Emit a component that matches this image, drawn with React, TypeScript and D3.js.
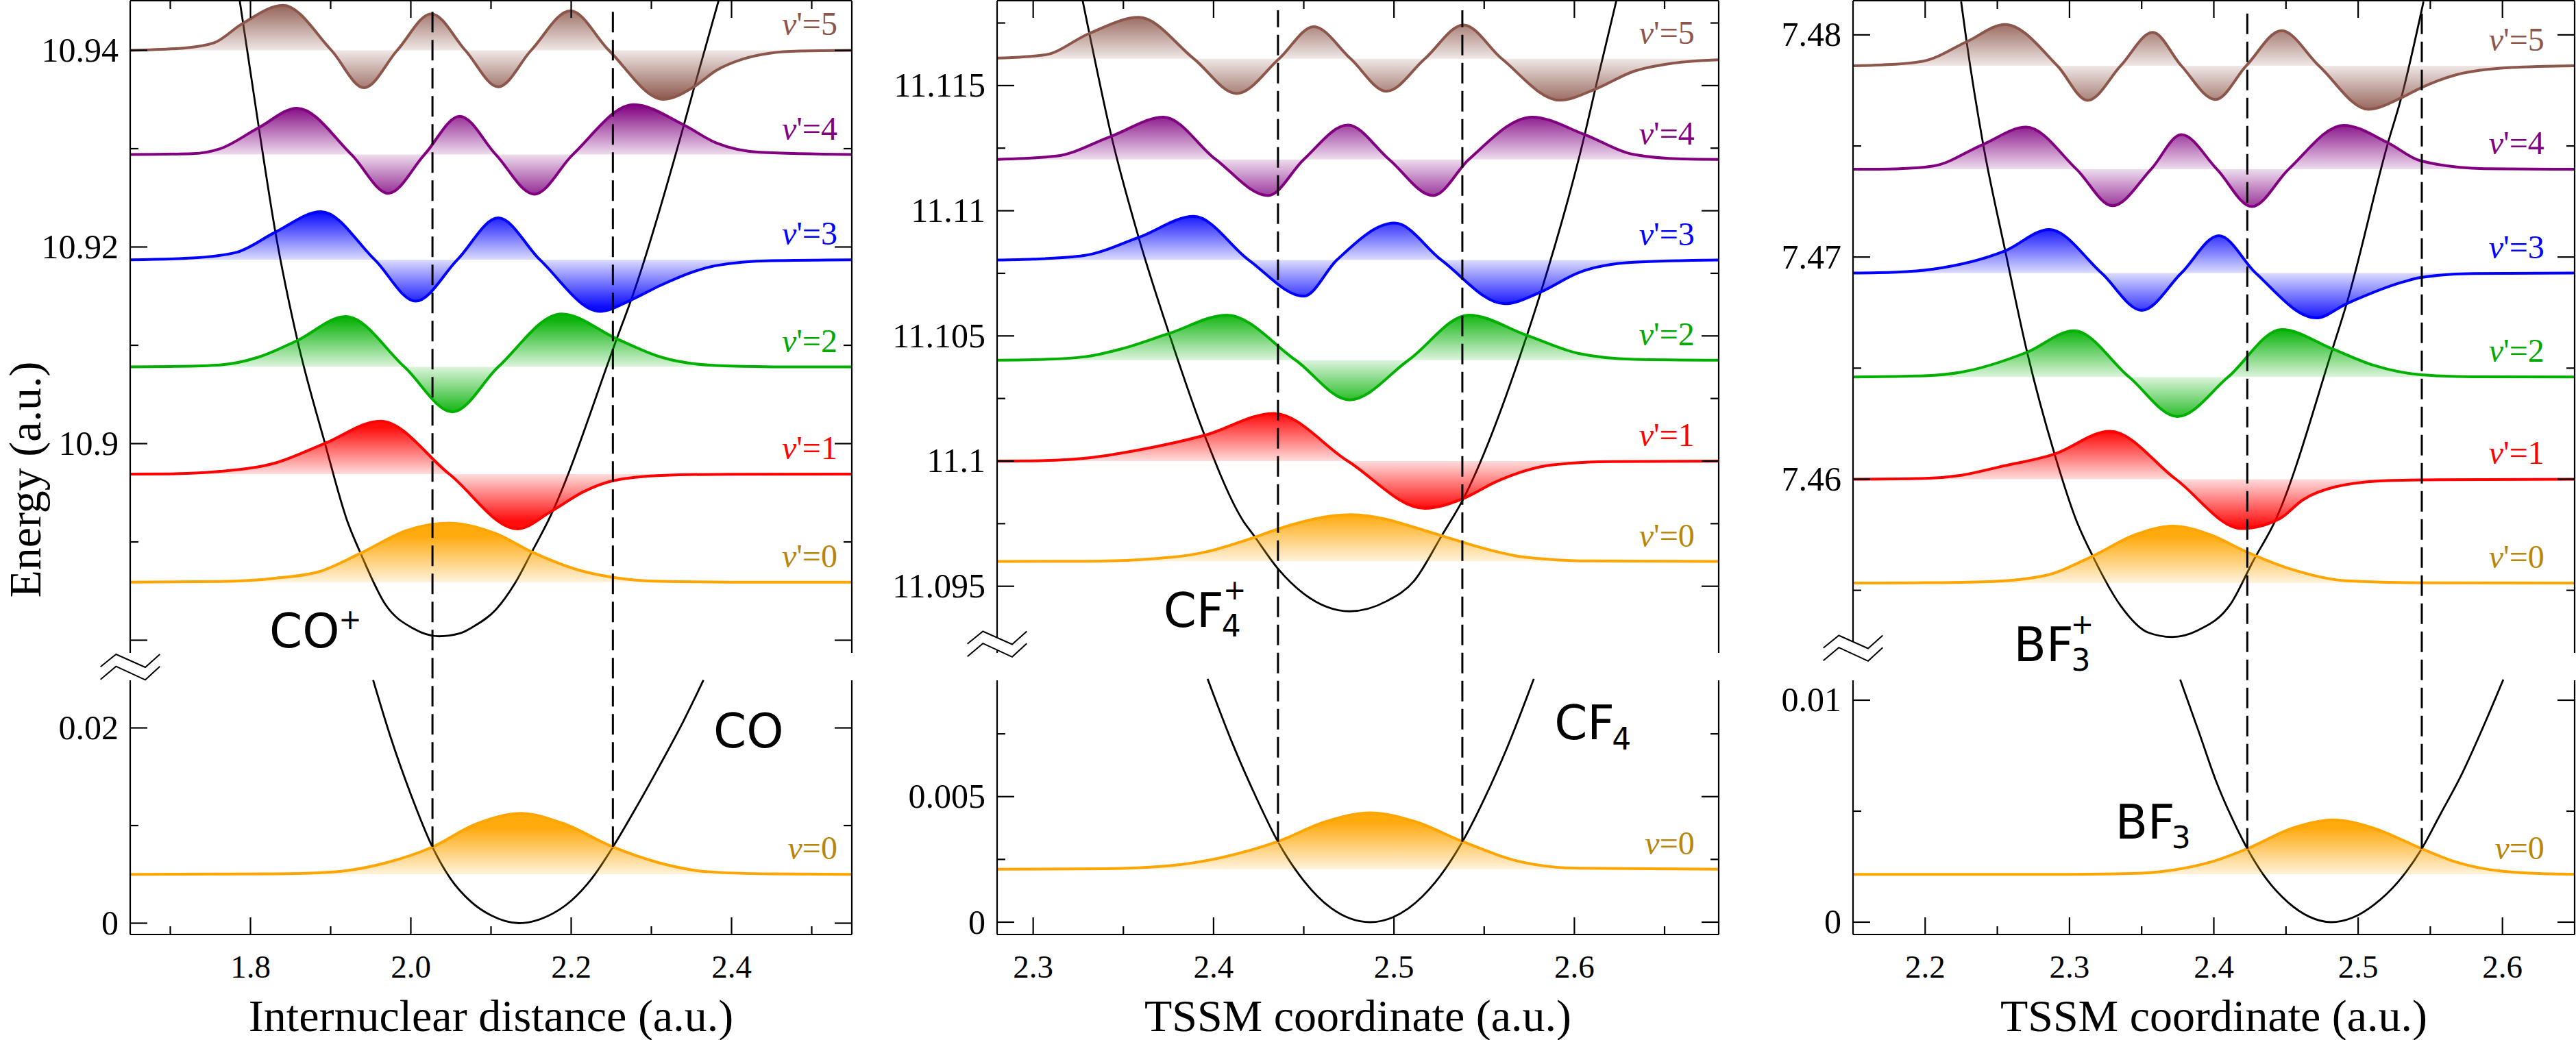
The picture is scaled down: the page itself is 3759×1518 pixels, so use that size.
import React from "react";
import * as d3 from "d3";

type Pt = [number, number];

/* ================= CO / CO+ ================= */
const coXDomain: [number, number] = [1.65, 2.55];
const coXMajor = [1.8, 2.0, 2.2, 2.4];
const coXMinor = [1.7, 1.9, 2.1, 2.3, 2.5];
const coUpperDomain: [number, number] = [10.878711, 10.945052];
const coLowerDomain: [number, number] = [-0.001158, 0.024877];
const coUpperMajor = [10.88, 10.9, 10.92, 10.94];
const coUpperLabeled = [10.9, 10.92, 10.94];
const coUpperMinor = [10.89, 10.91, 10.93];
const coLowerMajor = [0, 0.02];
const coLowerMinor = [0.01];
const coLevels = [10.8859, 10.8969, 10.9078, 10.9187, 10.9294, 10.94];
const coGroundLevel = 0.005;
const coV0: Pt[] = [[1.65, 0], [1.762, 0.015], [1.831, 0.09], [1.886, 0.24], [1.937, 0.65], [1.996, 1.17], [2.0475, 1.33], [2.106, 1.09], [2.151, 0.68], [2.209, 0.275], [2.252, 0.11], [2.312, 0.02], [2.4, 0.003], [2.55, 0]];
const coV1: Pt[] = [[1.65, 0], [1.7, 0.005], [1.762, 0.06], [1.831, 0.25], [1.893, 0.69], [1.962, 1.19], [2.048, 0], [2.133, -1.23], [2.175, -0.84], [2.216, -0.39], [2.252, -0.15], [2.312, -0.03], [2.4, -0.003], [2.55, 0]];
const coV2: Pt[] = [[1.65, 0], [1.7, 0.01], [1.762, 0.045], [1.81, 0.22], [1.858, 0.59], [1.919, 1.13], [1.992, 0], [2.052, -1.01], [2.109, 0], [2.188, 1.19], [2.257, 0.63], [2.312, 0.22], [2.381, 0.03], [2.45, 0.003], [2.55, 0]];
const coV3: Pt[] = [[1.65, 0], [1.728, 0.04], [1.783, 0.17], [1.831, 0.62], [1.888, 1.08], [1.955, 0], [2.006, -0.93], [2.058, 0], [2.109, 0.94], [2.161, 0], [2.236, -1.16], [2.274, -0.91], [2.312, -0.57], [2.381, -0.13], [2.449, -0.02], [2.55, 0]];
const coV4: Pt[] = [[1.65, 0], [1.728, 0.02], [1.762, 0.13], [1.81, 0.6], [1.858, 1.04], [1.926, 0], [1.972, -0.87], [2.017, 0], [2.061, 0.86], [2.106, 0], [2.154, -0.89], [2.202, 0], [2.278, 1.12], [2.34, 0.67], [2.381, 0.26], [2.436, 0.05], [2.55, 0]];
const coV5: Pt[] = [[1.65, 0], [1.7166, 0.05], [1.7547, 0.17], [1.789, 0.59], [1.8406, 1.01], [1.901, 0], [1.9416, -0.84], [1.983, 0], [2.0256, 0.82], [2.068, 0], [2.109, -0.82], [2.15, 0], [2.199, 0.89], [2.247, 0], [2.315, -1.1], [2.353, -0.82], [2.381, -0.45], [2.415, -0.19], [2.449, -0.06], [2.484, -0.015], [2.55, 0]];
const coGroundV0: Pt[] = [[1.65, 0], [1.83, 0.01], [1.9, 0.05], [1.9685, 0.26], [2.027, 0.62], [2.08, 1.13], [2.137, 1.38], [2.19, 1.15], [2.252, 0.62], [2.31, 0.26], [2.37, 0.06], [2.45, 0.01], [2.55, 0]];
const coIonPotential: Pt[] = [[1.7865, 10.9451], [1.8105, 10.9321], [1.8311, 10.9215], [1.8586, 10.9105], [1.893, 10.9], [1.9204, 10.8922], [1.9376, 10.8888], [1.9686, 10.8836], [2.0029, 10.8812], [2.035, 10.8804], [2.0613, 10.8807], [2.0784, 10.8814], [2.1059, 10.8831], [2.1299, 10.8858], [2.151, 10.889], [2.1716, 10.8922], [2.257, 10.9107], [2.2777, 10.9153], [2.3395, 10.9321], [2.3533, 10.9362], [2.384, 10.9451]];
const coNeutralPotential: Pt[] = [[1.953, 0.0249], [1.975, 0.019], [2.0, 0.0132], [2.027, 0.0078], [2.05, 0.0045], [2.075, 0.0022], [2.1, 0.0008], [2.135, 0], [2.17, 0.0007], [2.2, 0.0023], [2.225, 0.0045], [2.252, 0.0078], [2.28, 0.0117], [2.31, 0.0161], [2.34, 0.0207], [2.365, 0.0249]];
const coFranckCondon = [2.027, 2.252];
const coFranckCondonEnergy = 0.0078;

/* ================= CF4 / CF4+ ================= */
const cfXDomain: [number, number] = [2.28, 2.68];
const cfXMajor = [2.3, 2.4, 2.5, 2.6];
const cfXMinor = [2.35, 2.45, 2.55, 2.65];
const cfUpperDomain: [number, number] = [11.092337, 11.118391];
const cfLowerDomain: [number, number] = [-0.000491, 0.009632];
const cfUpperMajor = [11.095, 11.1, 11.105, 11.11, 11.115];
const cfUpperLabeled = [11.095, 11.1, 11.105, 11.11, 11.115];
const cfUpperMinor = [11.0975, 11.1025, 11.1075, 11.1125, 11.1175];
const cfLowerMajor = [0, 0.005];
const cfLowerMinor = [0.0025, 0.0075];
const cfLevels = [11.09599, 11.1, 11.10403, 11.10803, 11.11205, 11.11607];
const cfGroundLevel = 0.00211;
const cfV0: Pt[] = [[2.28, 0], [2.33, 0.005], [2.3586, 0.04], [2.3952, 0.21], [2.4226, 0.54], [2.4357, 0.73], [2.476, 1.05], [2.5263, 0.58], [2.5415, 0.39], [2.572, 0.1], [2.61, 0.01], [2.68, 0]];
const cfV1: Pt[] = [[2.28, 0], [2.3, 0.005], [2.3281, 0.06], [2.3586, 0.25], [2.3952, 0.58], [2.4333, 1.07], [2.4744, 0], [2.5171, -1.06], [2.5385, -0.84], [2.5568, -0.46], [2.5873, -0.09], [2.62, -0.01], [2.68, 0]];
const cfV2: Pt[] = [[2.28, 0], [2.3, 0.01], [2.3281, 0.075], [2.3494, 0.26], [2.3753, 0.6], [2.4074, 1.01], [2.4455, 0], [2.4754, -0.89], [2.508, 0], [2.5415, 1.01], [2.5736, 0.56], [2.6025, 0.15], [2.633, 0.02], [2.68, 0]];
const cfV3: Pt[] = [[2.28, 0], [2.3, 0.02], [2.3281, 0.1], [2.3586, 0.51], [2.389, 0.98], [2.4195, 0], [2.45, -0.81], [2.4683, 0], [2.5004, 0.83], [2.5263, 0], [2.5614, -0.98], [2.5812, -0.72], [2.6025, -0.28], [2.633, -0.05], [2.68, 0]];
const cfV4: Pt[] = [[2.28, 0], [2.3128, 0.075], [2.3433, 0.52], [2.3723, 0.95], [2.4012, 0], [2.4302, -0.81], [2.45, 0], [2.4744, 0.77], [2.4973, 0], [2.5217, -0.81], [2.5415, 0], [2.5766, 0.95], [2.6056, 0.56], [2.633, 0.11], [2.66, 0.01], [2.68, 0]];
const cfV5: Pt[] = [[2.28, 0.015], [2.3067, 0.09], [2.3311, 0.57], [2.3586, 0.93], [2.3891, 0], [2.4128, -0.78], [2.4363, 0], [2.4555, 0.72], [2.476, 0], [2.4958, -0.73], [2.5171, 0], [2.5385, 0.76], [2.5598, 0], [2.5919, -0.93], [2.6117, -0.68], [2.633, -0.28], [2.6544, -0.1], [2.6803, -0.02]];
const cfGroundV0: Pt[] = [[2.28, 0], [2.34, 0.01], [2.3738, 0.07], [2.4043, 0.26], [2.4357, 0.62], [2.462, 1.06], [2.4867, 1.26], [2.512, 1.06], [2.5379, 0.62], [2.572, 0.15], [2.6025, 0.02], [2.68, 0]];
const cfIonPotential: Pt[] = [[2.3274, 11.1184], [2.3311, 11.1171], [2.3433, 11.113], [2.3586, 11.1089], [2.3753, 11.1051], [2.3952, 11.101], [2.4165, 11.0976], [2.4226, 11.097], [2.4357, 11.0957], [2.45, 11.0947], [2.4754, 11.094], [2.4958, 11.0944], [2.511, 11.0952], [2.5263, 11.097], [2.5385, 11.0985], [2.5736, 11.105], [2.5812, 11.1067], [2.6056, 11.113], [2.6117, 11.1149], [2.6233, 11.1184]];
const cfNeutralPotential: Pt[] = [[2.3967, 0.00969], [2.41, 0.0072], [2.4234, 0.005], [2.4357, 0.0032], [2.45, 0.00165], [2.465, 0.00057], [2.4867, 0], [2.508, 0.00055], [2.523, 0.0016], [2.5379, 0.0032], [2.55, 0.0049], [2.563, 0.007], [2.5775, 0.00969]];
const cfFranckCondon = [2.4357, 2.5379];
const cfFranckCondonEnergy = 0.0032;

/* ================= BF3 / BF3+ ================= */
const bfXDomain: [number, number] = [2.15, 2.65];
const bfXMajor = [2.2, 2.3, 2.4, 2.5, 2.6];
const bfXMinor = [2.25, 2.35, 2.45, 2.55];
const bfUpperDomain: [number, number] = [7.452183, 7.481539];
const bfLowerDomain: [number, number] = [-0.000556, 0.010895];
const bfUpperMajor = [7.46, 7.47, 7.48];
const bfUpperLabeled = [7.46, 7.47, 7.48];
const bfUpperMinor = [7.455, 7.465, 7.475];
const bfLowerMajor = [0, 0.01];
const bfLowerMinor = [0.005];
const bfLevels = [7.45533, 7.46, 7.4646, 7.46928, 7.47395, 7.47861];
const bfGroundLevel = 0.00215;
const bfV0: Pt[] = [[2.15, 0], [2.2, 0.005], [2.244, 0.03], [2.2821, 0.16], [2.3164, 0.61], [2.345, 1.08], [2.3717, 1.28], [2.398, 1.08], [2.4213, 0.72], [2.4537, 0.31], [2.4919, 0.05], [2.55, 0.003], [2.65, 0]];
const bfV1: Pt[] = [[2.15, 0], [2.2, 0.02], [2.2249, 0.09], [2.2516, 0.28], [2.2898, 0.57], [2.3279, 1.08], [2.3737, 0], [2.4194, -1.11], [2.4461, -0.88], [2.4614, -0.47], [2.4843, -0.17], [2.52, -0.03], [2.5434, -0.015], [2.65, 0]];
const bfV2: Pt[] = [[2.15, 0], [2.2, 0.03], [2.2249, 0.11], [2.2707, 0.56], [2.3031, 1.04], [2.3413, 0], [2.3748, -0.89], [2.4099, 0], [2.447, 1.07], [2.4824, 0.63], [2.5111, 0.26], [2.5434, 0.05], [2.58, 0.005], [2.65, 0]];
const bfV3: Pt[] = [[2.15, 0], [2.18, 0.02], [2.2058, 0.09], [2.2554, 0.5], [2.2859, 0.98], [2.3222, 0], [2.3501, -0.84], [2.3775, 0], [2.4035, 0.84], [2.429, 0], [2.471, -1.01], [2.492, -0.69], [2.5301, -0.21], [2.5434, -0.1], [2.58, -0.01], [2.65, 0]];
const bfV4: Pt[] = [[2.15, 0], [2.18, 0.01], [2.2058, 0.075], [2.2401, 0.56], [2.2699, 0.95], [2.3049, 0], [2.3298, -0.82], [2.3565, 0], [2.3775, 0.78], [2.4022, 0], [2.4263, -0.84], [2.4518, 0], [2.49, 0.99], [2.5205, 0.6], [2.5434, 0.19], [2.5872, 0.015], [2.65, 0]];
const bfV5: Pt[] = [[2.15, 0], [2.17, 0.02], [2.1982, 0.1], [2.2287, 0.54], [2.2554, 0.93], [2.2916, 0], [2.3126, -0.78], [2.3355, 0], [2.3576, 0.75], [2.3775, 0], [2.4011, -0.76], [2.4225, 0], [2.4469, 0.79], [2.4728, 0], [2.5071, -0.98], [2.53, -0.72], [2.5434, -0.5], [2.5682, -0.2], [2.6063, -0.04], [2.65, 0]];
const bfGroundV0: Pt[] = [[2.15, 0], [2.3, 0.003], [2.35, 0.03], [2.3775, 0.13], [2.4, 0.3], [2.4232, 0.58], [2.455, 1.05], [2.4825, 1.23], [2.51, 1.05], [2.5441, 0.58], [2.5658, 0.3], [2.5872, 0.13], [2.6254, 0.02], [2.65, 0.005]];
const bfIonPotential: Pt[] = [[2.2249, 7.4815], [2.2287, 7.4797], [2.2401, 7.4751], [2.2554, 7.4703], [2.2707, 7.4657], [2.2898, 7.4611], [2.305, 7.4581], [2.3164, 7.4565], [2.3355, 7.4543], [2.3545, 7.4531], [2.371, 7.4529], [2.389, 7.4532], [2.4118, 7.4544], [2.4271, 7.4563], [2.4423, 7.4581], [2.4824, 7.4659], [2.492, 7.4679], [2.5205, 7.4751], [2.53, 7.4772], [2.5453, 7.4815]];
const bfNeutralPotential: Pt[] = [[2.3767, 0.01093], [2.39, 0.0085], [2.4013, 0.0064], [2.4125, 0.0047], [2.4232, 0.00331], [2.437, 0.0019], [2.4513, 0.0009], [2.466, 0.00025], [2.4813, 0], [2.496, 0.0002], [2.5113, 0.0008], [2.5275, 0.0018], [2.5441, 0.00331], [2.5573, 0.0049], [2.5713, 0.0066], [2.586, 0.0087], [2.6006, 0.01093]];
const bfFranckCondon = [2.4232, 2.5441];
const bfFranckCondonEnergy = 0.00331;

/* ================= styling / layout ================= */
const WAVE_COLORS = ["#ffa500", "#ff0000", "#00b000", "#0000ff", "#800080", "#8c564b"];
const LABEL_COLORS = ["#b8860b", "#ff0000", "#00a800", "#0000ff", "#800080", "#8c564b"];
const SERIF = "'Liberation Serif', 'Times New Roman', serif";
const SANS = "'DejaVu Sans', sans-serif";
const W = 3759;
const H = 1518;
const PANEL_W = 1053;
const UPPER_TOP = 1;
const UPPER_BOTTOM = 953;
const LOWER_TOP = 993;
const LOWER_BOTTOM = 1364;
const MAJOR_LEN = 25;
const MINOR_LEN = 12;

interface Formula {
  r: number;
  e: number;
  part: "upper" | "lower";
  main: string;
  sub?: string;
  sup?: string;
  subDx?: number;
  subDy?: number;
  supDx?: number;
  supDy?: number;
}

interface PanelSpec {
  left: number;
  xDomain: [number, number];
  xMajor: number[];
  xMinor: number[];
  upperDomain: [number, number];
  lowerDomain: [number, number];
  upperMajor: number[];
  upperLabeled: number[];
  upperMinor: number[];
  lowerMajor: number[];
  lowerMinor: number[];
  levels: number[];
  ionWaves: Pt[][];
  groundLevel: number;
  groundWave: Pt[];
  ionPotential: Pt[];
  neutralPotential: Pt[];
  waveScale: number;
  fc: number[];
  fcEnergy: number;
  labelR: number;
  xTitle: string;
  breakY: number;
  ion: Formula;
  neutral: Formula;
}

const panels: PanelSpec[] = [
  {
    left: 190,
    xDomain: coXDomain, xMajor: coXMajor, xMinor: coXMinor,
    upperDomain: coUpperDomain, lowerDomain: coLowerDomain,
    upperMajor: coUpperMajor, upperLabeled: coUpperLabeled, upperMinor: coUpperMinor,
    lowerMajor: coLowerMajor, lowerMinor: coLowerMinor,
    levels: coLevels, ionWaves: [coV0, coV1, coV2, coV3, coV4, coV5],
    groundLevel: coGroundLevel, groundWave: coGroundV0,
    ionPotential: coIonPotential, neutralPotential: coNeutralPotential,
    waveScale: 0.00453,
    fc: coFranckCondon, fcEnergy: coFranckCondonEnergy,
    labelR: 2.532,
    xTitle: "Internuclear distance (a.u.)",
    breakY: 973.5,
    ion: { r: 1.8235, e: 10.87927, part: "upper", main: "CO", sup: "+", supDx: 118, supDy: -27 },
    neutral: { r: 2.3774, e: 0.018, part: "lower", main: "CO" },
  },
  {
    left: 1455,
    xDomain: cfXDomain, xMajor: cfXMajor, xMinor: cfXMinor,
    upperDomain: cfUpperDomain, lowerDomain: cfLowerDomain,
    upperMajor: cfUpperMajor, upperLabeled: cfUpperLabeled, upperMinor: cfUpperMinor,
    lowerMajor: cfLowerMajor, lowerMinor: cfLowerMinor,
    levels: cfLevels, ionWaves: [cfV0, cfV1, cfV2, cfV3, cfV4, cfV5],
    groundLevel: cfGroundLevel, groundWave: cfGroundV0,
    ionPotential: cfIonPotential, neutralPotential: cfNeutralPotential,
    waveScale: 0.00178,
    fc: cfFranckCondon, fcEnergy: cfFranckCondonEnergy,
    labelR: 2.6666,
    xTitle: "TSSM coordinate (a.u.)",
    breakY: 940,
    ion: { r: 2.3722, e: 11.09338, part: "upper", main: "CF", sub: "4", subDx: 99, subDy: 14, sup: "+", supDx: 104, supDy: -40 },
    neutral: { r: 2.5889, e: 0.00729, part: "lower", main: "CF", sub: "4", subDx: 98, subDy: 15 },
  },
  {
    left: 2704,
    xDomain: bfXDomain, xMajor: bfXMajor, xMinor: bfXMinor,
    upperDomain: bfUpperDomain, lowerDomain: bfLowerDomain,
    upperMajor: bfUpperMajor, upperLabeled: bfUpperLabeled, upperMinor: bfUpperMinor,
    lowerMajor: bfLowerMajor, lowerMinor: bfLowerMinor,
    levels: bfLevels, ionWaves: [bfV0, bfV1, bfV2, bfV3, bfV4, bfV5],
    groundLevel: bfGroundLevel, groundWave: bfGroundV0,
    ionPotential: bfIonPotential, neutralPotential: bfNeutralPotential,
    waveScale: 0.002,
    fc: bfFranckCondon, fcEnergy: bfFranckCondonEnergy,
    labelR: 2.629,
    xTitle: "TSSM coordinate (a.u.)",
    breakY: 946,
    ion: { r: 2.2614, e: 7.4518, part: "upper", main: "BF", sub: "3", subDx: 98, subDy: 14, sup: "+", supDx: 100, supDy: -40 },
    neutral: { r: 2.3317, e: 0.00377, part: "lower", main: "BF", sub: "3", subDx: 96, subDy: 14 },
  },
];

/* chemical formula drawn as one text element with positioned sub/superscripts */
function FormulaLabel({ f, x, y }: { f: Formula; x: number; y: number }) {
  return (
    <text fontFamily={SANS} fill="#000" fontSize={69}>
      <tspan x={x} y={y}>{f.main}</tspan>
      {f.sub ? (
        <tspan x={x + (f.subDx ?? 0)} y={y + (f.subDy ?? 0)} fontSize={44} textAnchor="middle">{f.sub}</tspan>
      ) : null}
      {f.sup ? (
        <tspan x={x + (f.supDx ?? 0)} y={y + (f.supDy ?? 0)} fontSize={40} textAnchor="middle">{f.sup}</tspan>
      ) : null}
    </text>
  );
}

function Panel({ p, idx }: { p: PanelSpec; idx: number }) {
  const left = p.left;
  const right = p.left + PANEL_W;
  const x = d3.scaleLinear().domain(p.xDomain).range([left, right]);
  const yU = d3.scaleLinear().domain(p.upperDomain).range([UPPER_BOTTOM, UPPER_TOP]);
  const yL = d3.scaleLinear().domain(p.lowerDomain).range([LOWER_BOTTOM, LOWER_TOP]);
  const clipU = `clip-upper-${idx}`;
  const clipL = `clip-lower-${idx}`;

  const potLine = (ys: d3.ScaleLinear<number, number>) =>
    d3.line<Pt>().x((d) => x(d[0])).y((d) => ys(d[1])).curve(d3.curveMonotoneX);

  const waves = [
    ...p.levels.map((level, k) => ({
      ys: yU, level, psi: p.ionWaves[k], color: WAVE_COLORS[k], labelColor: LABEL_COLORS[k],
      tail: `'=${k}`, clip: clipU,
    })),
    {
      ys: yL, level: p.groundLevel, psi: p.groundWave, color: WAVE_COLORS[0], labelColor: LABEL_COLORS[0],
      tail: "=0", clip: clipL,
    },
  ];

  const xMid = (left + right) / 2;

  return (
    <g>
      <defs>
        <clipPath id={clipU}>
          <rect x={left} y={UPPER_TOP} width={PANEL_W} height={UPPER_BOTTOM - UPPER_TOP} />
        </clipPath>
        <clipPath id={clipL}>
          <rect x={left} y={LOWER_TOP - 40} width={PANEL_W} height={LOWER_BOTTOM - LOWER_TOP + 40} />
        </clipPath>
        {waves.map((w, k) => {
          const base = w.ys(w.level);
          const amp = Math.abs(w.ys(w.level + 1.05 * p.waveScale) - base);
          return (
            <linearGradient key={k} id={`wf-${idx}-${k}`} gradientUnits="userSpaceOnUse" x1={0} x2={0} y1={base - amp} y2={base + amp}>
              <stop offset="0" stopColor={w.color} stopOpacity={0.95} />
              <stop offset="0.5" stopColor={w.color} stopOpacity={0.14} />
              <stop offset="1" stopColor={w.color} stopOpacity={0.95} />
            </linearGradient>
          );
        })}
      </defs>

      {/* potential energy curves */}
      <g clipPath={`url(#${clipU})`}>
        <path d={potLine(yU)(p.ionPotential) ?? ""} fill="none" stroke="#000" strokeWidth={2.8} />
      </g>
      <g clipPath={`url(#${clipL})`}>
        <path d={potLine(yL)(p.neutralPotential) ?? ""} fill="none" stroke="#000" strokeWidth={2.8} />
      </g>

      {/* vibrational wavefunctions */}
      {waves.map((w, k) => {
        const area = d3.area<Pt>().x((d) => x(d[0])).y0(w.ys(w.level)).y1((d) => w.ys(w.level + d[1] * p.waveScale)).curve(d3.curveMonotoneX);
        const line = d3.line<Pt>().x((d) => x(d[0])).y((d) => w.ys(w.level + d[1] * p.waveScale)).curve(d3.curveMonotoneX);
        return (
          <g key={k} clipPath={`url(#${w.clip})`}>
            <path d={area(w.psi) ?? ""} fill={`url(#wf-${idx}-${k})`} stroke="none" />
            <path d={line(w.psi) ?? ""} fill="none" stroke={w.color} strokeWidth={4} />
          </g>
        );
      })}

      {/* Franck-Condon region */}
      {p.fc.map((r, k) => (
        <line key={k} x1={x(r)} x2={x(r)} y1={yL(p.fcEnergy)} y2={UPPER_TOP + 14} stroke="#000" strokeWidth={3} strokeDasharray="30 11" />
      ))}

      {/* level labels */}
      {waves.map((w, k) => (
        <text key={k} x={x(p.labelR)} y={w.ys(w.level) - 22} fontFamily={SERIF} fontSize={48} fill={w.labelColor} textAnchor="end">
          <tspan fontStyle="italic">v</tspan>
          {w.tail}
        </text>
      ))}

      {/* molecule names */}
      <FormulaLabel f={p.ion} x={x(p.ion.r)} y={(p.ion.part === "upper" ? yU : yL)(p.ion.e)} />
      <FormulaLabel f={p.neutral} x={x(p.neutral.r)} y={(p.neutral.part === "upper" ? yU : yL)(p.neutral.e)} />

      {/* frame */}
      <g stroke="#000" strokeWidth={2.2} fill="none">
        <line x1={left} x2={right} y1={UPPER_TOP} y2={UPPER_TOP} />
        <line x1={left} x2={right} y1={LOWER_BOTTOM} y2={LOWER_BOTTOM} />
        <line x1={left} x2={left} y1={UPPER_TOP} y2={UPPER_BOTTOM} />
        <line x1={left} x2={left} y1={LOWER_TOP} y2={LOWER_BOTTOM} />
        <line x1={right} x2={right} y1={UPPER_TOP} y2={UPPER_BOTTOM} />
        <line x1={right} x2={right} y1={LOWER_TOP} y2={LOWER_BOTTOM} />
        {/* x ticks, bottom and top */}
        {p.xMajor.map((v) => (
          <g key={`xM${v}`}>
            <line x1={x(v)} x2={x(v)} y1={LOWER_BOTTOM} y2={LOWER_BOTTOM - MAJOR_LEN} />
            <line x1={x(v)} x2={x(v)} y1={UPPER_TOP} y2={UPPER_TOP + MAJOR_LEN} />
          </g>
        ))}
        {p.xMinor.map((v) => (
          <g key={`xm${v}`}>
            <line x1={x(v)} x2={x(v)} y1={LOWER_BOTTOM} y2={LOWER_BOTTOM - MINOR_LEN} />
            <line x1={x(v)} x2={x(v)} y1={UPPER_TOP} y2={UPPER_TOP + MINOR_LEN} />
          </g>
        ))}
        {/* y ticks, both sides */}
        {[
          ...p.upperMajor.map((v) => [yU(v), MAJOR_LEN]),
          ...p.upperMinor.map((v) => [yU(v), MINOR_LEN]),
          ...p.lowerMajor.map((v) => [yL(v), MAJOR_LEN]),
          ...p.lowerMinor.map((v) => [yL(v), MINOR_LEN]),
        ].map(([yy, len], k) => (
          <g key={`y${k}`}>
            <line x1={left} x2={left + len} y1={yy} y2={yy} />
            <line x1={right} x2={right - len} y1={yy} y2={yy} />
          </g>
        ))}
      </g>

      {/* axis break */}
      <g transform={`translate(${left},${p.breakY})`} fill="none" stroke="#000" strokeWidth={2}>
        <polygon points="-43.3,-0.2 -20.7,-18.5 22,0.5 43.3,-18.5 43.3,-0.8 22,18.8 -20.7,-0.8 -43.3,18.2" fill="#fff" stroke="none" />
        <polyline points="-43.3,-0.2 -20.7,-18.5 22,0.5 43.3,-18.5" />
        <polyline points="-43.3,18.2 -20.7,-0.8 22,18.8 43.3,-0.8" />
      </g>

      {/* tick labels */}
      <g fontFamily={SERIF} fill="#000">
        {p.xMajor.map((v) => (
          <text key={`xl${v}`} x={x(v)} y={1427} fontSize={47} textAnchor="middle">{v.toFixed(1)}</text>
        ))}
        {p.upperLabeled.map((v) => (
          <text key={`ul${v}`} x={left - 17} y={yU(v) + 16.5} fontSize={50} textAnchor="end">{String(v)}</text>
        ))}
        {p.lowerMajor.map((v) => (
          <text key={`ll${v}`} x={left - 17} y={yL(v) + 16.5} fontSize={50} textAnchor="end">{String(v)}</text>
        ))}
        <text x={xMid} y={1505} fontSize={66} textAnchor="middle">{p.xTitle}</text>
      </g>
    </g>
  );
}

export default function App() {
  return (
    <svg
      width={W}
      height={H}
      viewBox={`0 0 ${W} ${H}`}
      style={{ position: "absolute", left: 0, top: 0, display: "block", background: "#fff" }}
    >
      <rect x={0} y={0} width={W} height={H} fill="#fff" />
      {panels.map((p, i) => (
        <Panel key={i} p={p} idx={i} />
      ))}
      <text
        transform="translate(59,700) rotate(-90)"
        fontFamily={SERIF}
        fontSize={66}
        textAnchor="middle"
        fill="#000"
      >
        Energy (a.u.)
      </text>
    </svg>
  );
}
